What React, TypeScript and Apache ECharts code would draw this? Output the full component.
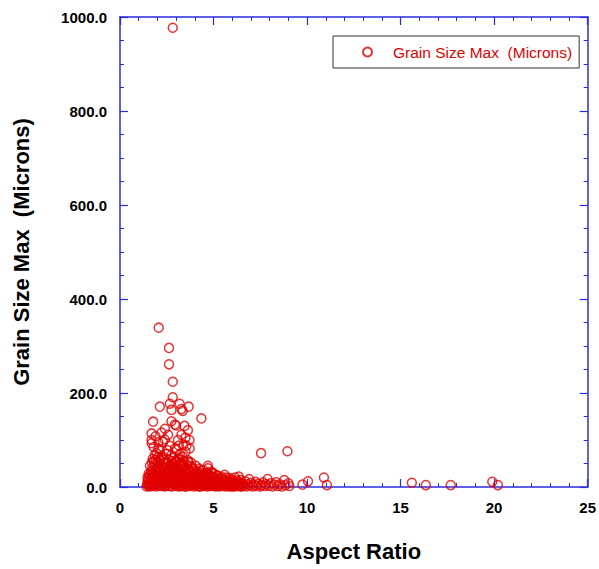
import React, { useEffect, useRef } from "react";
import * as echarts from "echarts";

const FONT = "'Liberation Sans', Arial, Helvetica, sans-serif";
const AXIS = "#2a2ae0";
const RED = "#e00000";
const SERIES_NAME = "Grain Size Max  (Microns)";

const xTicks = [0, 5, 10, 15, 20, 25];
const yTicks = [0, 200, 400, 600, 800, 1000];

// [Aspect Ratio, Grain Size Max]
const outlierPoints = [
  [2.82, 977], [2.07, 339], [2.62, 296], [2.62, 261], [2.82, 224], [2.82, 191],
];

const upperPoints = [
  [2.13, 171], [2.66, 177], [3.19, 177], [3.67, 171], [2.75, 164], [3.28, 166],
  [3.35, 162], [4.35, 146], [1.77, 139], [2.75, 140], [3.0, 131], [2.93, 133],
  [1.69, 114], [2.22, 116], [2.57, 111], [3.63, 121], [3.28, 111], [1.69, 100],
  [2.3, 96], [2.39, 101], [3.1, 100], [3.72, 100], [1.69, 93], [3.72, 82],
  [2.04, 82], [2.13, 79], [3.01, 79], [2.93, 82], [1.86, 68], [2.75, 68],
  [2.48, 70], [3.37, 64], [2.04, 64], [3.15, 88], [2.13, 57], [2.93, 54],
  [3.63, 57], [4.7, 45], [2.4, 124], [3.45, 130], [3.5, 105], [1.9, 108],
  [1.75, 60], [1.95, 72], [2.25, 66], [2.55, 78], [2.85, 62], [3.2, 70],
  [3.5, 75], [2.65, 88], [3.4, 90], [1.8, 85], [2.05, 95], [3.55, 88],
];

const upperBand = [
  [1.6, 45], [1.7, 52], [1.9, 58], [2.0, 50], [2.2, 62], [2.4, 50], [2.6, 58],
  [2.8, 50], [3.0, 57], [3.2, 58], [3.4, 55], [3.6, 47], [3.8, 52], [2.3, 42],
  [2.7, 46], [3.3, 50], [1.8, 54],
];

const clusterLeft = [
  [1.42, 1], [1.45, 6], [1.48, 12], [1.5, 3], [1.52, 18], [1.55, 9], [1.58, 25],
  [1.6, 1], [1.62, 14], [1.65, 32], [1.67, 5], [1.7, 20], [1.72, 40], [1.75, 10],
  [1.78, 2], [1.8, 28], [1.82, 16], [1.85, 47], [1.87, 7], [1.9, 35], [1.92, 22],
  [1.95, 1], [1.97, 12], [2.0, 42], [2.02, 30], [2.05, 5], [2.07, 18], [2.1, 52],
  [2.12, 9], [2.15, 26], [2.17, 38], [2.2, 2], [2.22, 15], [2.25, 45], [2.27, 22],
  [2.3, 7], [2.32, 33], [2.35, 58], [2.37, 11], [2.4, 1], [2.42, 28], [2.45, 40],
  [2.47, 17], [2.5, 4],
];

const clusterMid = [
  [2.52, 50], [2.55, 24], [2.57, 10], [2.6, 36], [2.62, 2], [2.65, 19], [2.67, 44],
  [2.7, 8], [2.72, 30], [2.75, 55], [2.77, 14], [2.8, 1], [2.82, 25], [2.85, 39],
  [2.87, 6], [2.9, 48], [2.92, 18], [2.95, 32], [2.97, 3], [3.0, 12], [3.02, 43],
  [3.05, 27], [3.07, 8], [3.1, 60], [3.12, 20], [3.15, 1], [3.17, 35], [3.2, 14],
  [3.22, 49], [3.25, 5], [3.27, 24], [3.3, 38], [3.32, 10], [3.35, 2], [3.37, 29],
  [3.4, 46], [3.42, 16], [3.45, 7], [3.47, 34], [3.5, 21],
];

const clusterRight = [
  [3.52, 1], [3.55, 41], [3.57, 12], [3.6, 28], [3.62, 5], [3.65, 53], [3.67, 19],
  [3.7, 36], [3.72, 9], [3.75, 2], [3.77, 25], [3.8, 44], [3.82, 14], [3.85, 31],
  [3.87, 4], [3.9, 20], [3.92, 38], [3.95, 8], [3.97, 1], [4.0, 27], [4.02, 15],
  [4.05, 45], [4.07, 6], [4.1, 22], [4.12, 33], [4.15, 11], [4.17, 2], [4.2, 18],
  [4.22, 39], [4.25, 7], [4.28, 26], [4.3, 13], [4.33, 1], [4.35, 30], [4.38, 9],
  [4.4, 20], [4.43, 4], [4.45, 36], [4.48, 15], [4.5, 2], [4.53, 24], [4.55, 10],
  [4.58, 29],
];

const clusterFill = [
  [1.47, 20], [1.53, 28], [1.57, 4], [1.63, 8], [1.68, 26], [1.73, 3], [1.77, 34],
  [1.83, 9], [1.88, 24], [1.93, 17], [1.98, 4], [2.03, 23], [2.08, 36], [2.13, 14],
  [2.18, 3], [2.23, 30], [2.28, 11], [2.33, 20], [2.38, 3], [2.43, 35], [2.48, 9],
  [2.53, 29], [2.58, 16], [2.63, 41], [2.68, 2], [2.73, 22], [2.78, 35], [2.83, 11],
  [2.88, 28], [2.93, 7], [2.98, 37], [3.03, 19], [3.08, 2], [3.13, 31], [3.18, 9],
  [3.23, 20], [3.28, 2], [3.33, 43], [3.38, 12], [3.43, 25], [3.48, 1], [3.53, 33],
  [3.58, 7], [3.63, 22], [3.68, 3], [3.73, 30], [3.78, 15], [3.83, 6], [3.88, 40],
  [3.93, 26], [3.98, 11], [4.03, 4], [4.08, 31], [4.13, 17], [4.18, 26], [4.23, 1],
  [4.28, 10], [4.33, 35], [4.38, 21], [4.43, 14], [4.48, 27], [4.53, 5], [4.58, 19],
  [4.63, 31], [4.68, 9], [4.73, 3], [4.78, 22], [4.83, 13], [4.88, 5], [4.93, 30],
  [4.98, 9], [5.03, 20], [5.08, 3], [5.13, 12], [5.18, 25], [5.23, 7], [5.28, 17],
  [5.33, 3], [5.38, 11], [5.43, 21], [5.48, 6], [5.53, 2], [5.58, 15], [5.63, 8],
  [5.68, 20], [5.73, 3], [5.78, 11], [5.83, 5], [5.88, 1], [5.93, 16], [5.98, 8],
  [6.03, 3], [6.08, 11], [6.13, 1], [6.18, 7], [6.25, 14], [6.28, 4], [6.38, 10],
  [6.43, 1], [6.48, 7],
];

const clusterTail = [
  [4.6, 5], [4.63, 17], [4.67, 1], [4.7, 40], [4.72, 12], [4.75, 26], [4.78, 6],
  [4.8, 19], [4.83, 2], [4.87, 33], [4.9, 10], [4.93, 22], [4.97, 3], [5.0, 14],
  [5.03, 28], [5.07, 7], [5.1, 1], [5.13, 18], [5.17, 10], [5.2, 4], [5.23, 24],
  [5.27, 13], [5.3, 1], [5.35, 8], [5.4, 18], [5.45, 3], [5.5, 11], [5.55, 5],
  [5.59, 26], [5.65, 1], [5.7, 14], [5.75, 7], [5.8, 2], [5.85, 19], [5.9, 10],
  [5.95, 4], [6.0, 1], [6.05, 13], [6.1, 6], [6.15, 20], [6.2, 2], [6.3, 9],
  [6.35, 22], [6.4, 4], [6.45, 15], [6.5, 1],
];

const sparsePoints = [
  [6.55, 8], [6.6, 3], [6.7, 12], [6.75, 1], [6.8, 6], [6.9, 17], [6.95, 3],
  [7.0, 9], [7.1, 1], [7.15, 5], [7.25, 11], [7.3, 2], [7.4, 7], [7.5, 1],
  [7.55, 4], [7.65, 10], [7.75, 2], [7.8, 6], [7.89, 17], [7.95, 3], [8.05, 8],
  [8.15, 1], [8.25, 5], [8.35, 10], [8.45, 2], [8.55, 6], [8.65, 1], [8.78, 15],
  [8.85, 4], [9.0, 8], [9.05, 2], [7.54, 72], [8.95, 76],
];

const farPoints = [
  [9.75, 5], [10.05, 12], [10.9, 20], [11.06, 4], [15.6, 9], [16.35, 4],
  [17.68, 4], [19.9, 11], [20.2, 4],
];

const allPoints = [
  ...outlierPoints, ...upperPoints, ...upperBand, ...clusterLeft, ...clusterMid,
  ...clusterRight, ...clusterFill, ...clusterTail, ...sparsePoints, ...farPoints,
];

const tickLabelStyle = {
  color: "#000",
  fontWeight: "bold" as const,
  fontSize: 15,
  fontFamily: FONT,
};

const nameStyle = {
  color: "#000",
  fontWeight: "bold" as const,
  fontSize: 22,
  fontFamily: FONT,
};

function axisCommon() {
  return {
    axisLine: { show: true, onZero: false, lineStyle: { color: AXIS, width: 1.5 } },
    axisTick: { show: true, inside: true, length: 8, lineStyle: { color: AXIS, width: 1.2 } },
    minorTick: { show: true, length: 4, lineStyle: { color: AXIS, width: 1 } },
    splitLine: { show: false },
    minorSplitLine: { show: false },
  };
}

export default function App() {
  const ref = useRef<HTMLDivElement>(null);

  useEffect(() => {
    if (!ref.current) return;
    const chart = echarts.init(ref.current, null, { renderer: "svg" });
    const xMin = xTicks[0];
    const xMax = xTicks[xTicks.length - 1];
    const yMin = yTicks[0];
    const yMax = yTicks[yTicks.length - 1];
    const xStep = xTicks[1] - xTicks[0];
    const yStep = yTicks[1] - yTicks[0];
    const ca = axisCommon();

    chart.setOption({
      animation: false,
      backgroundColor: "#fff",
      textStyle: { fontFamily: FONT },
      grid: { left: 120, right: 9, top: 17, bottom: 82 },
      legend: {
        data: [SERIES_NAME],
        left: 333,
        top: 36,
        orient: "vertical",
        backgroundColor: "#fff",
        borderColor: "#333",
        borderWidth: 1,
        borderRadius: 0,
        padding: [8, 7, 8, 29],
        itemWidth: 9,
        itemHeight: 9,
        textStyle: { color: RED, fontSize: 15.5, fontFamily: FONT, padding: [0, 0, 0, 16] },
      },
      xAxis: [
        {
          type: "value",
          position: "bottom",
          min: xMin,
          max: xMax,
          interval: xStep,
          ...ca,
          minorTick: { ...ca.minorTick, splitNumber: 5 },
          axisLabel: { ...tickLabelStyle, margin: 13 },
          name: "Aspect Ratio",
          nameLocation: "middle",
          nameGap: 53,
          nameTextStyle: { ...nameStyle, verticalAlign: "top" },
        },
        {
          type: "value",
          position: "top",
          min: xMin,
          max: xMax,
          interval: xStep,
          ...ca,
          minorTick: { ...ca.minorTick, splitNumber: 5 },
          axisLabel: { show: false },
        },
      ],
      yAxis: [
        {
          type: "value",
          position: "left",
          min: yMin,
          max: yMax,
          interval: yStep,
          ...ca,
          minorTick: { ...ca.minorTick, splitNumber: 4 },
          axisLabel: {
            ...tickLabelStyle,
            margin: 13,
            formatter: (v: number) => v.toFixed(1),
          },
          name: SERIES_NAME,
          nameLocation: "middle",
          nameGap: 88,
          nameTextStyle: nameStyle,
        },
        {
          type: "value",
          position: "right",
          min: yMin,
          max: yMax,
          interval: yStep,
          ...ca,
          minorTick: { ...ca.minorTick, splitNumber: 4 },
          axisLabel: { show: false },
        },
      ],
      series: [
        {
          name: SERIES_NAME,
          type: "scatter",
          xAxisIndex: 0,
          yAxisIndex: 0,
          symbol: "circle",
          symbolSize: 9,
          itemStyle: { color: "rgba(0,0,0,0)", borderColor: RED, borderWidth: 1.5 },
          emphasis: { disabled: true },
          data: allPoints,
        },
      ],
    });
    return () => chart.dispose();
  }, []);

  return (
    <div
      ref={ref}
      style={{ position: "fixed", left: 0, top: 0, width: 599, height: 569, background: "#fff" }}
    />
  );
}
